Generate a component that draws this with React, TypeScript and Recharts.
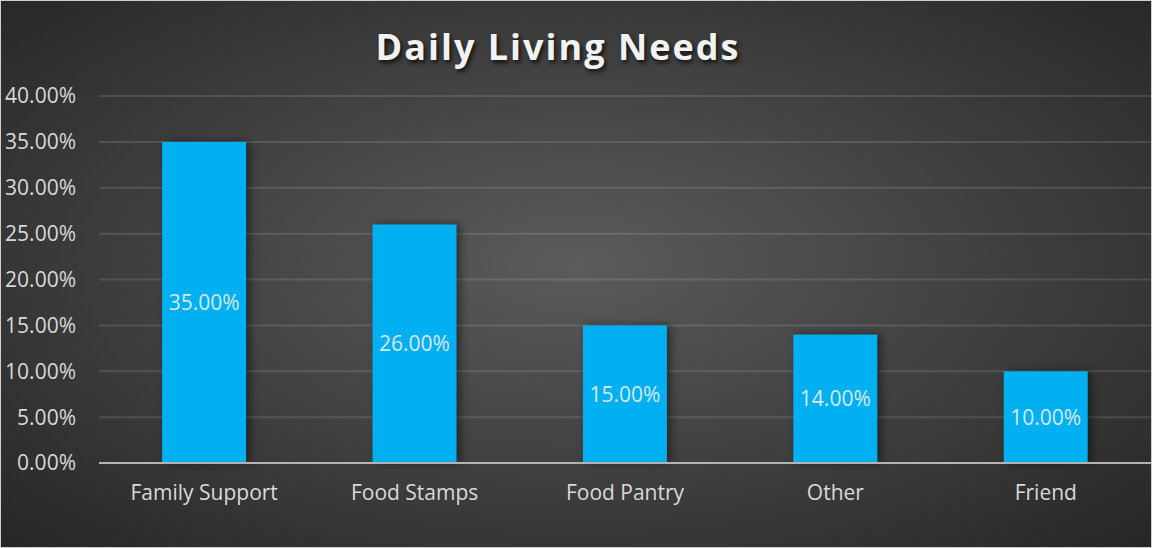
import { BarChart, Bar, XAxis, YAxis, CartesianGrid, LabelList } from "recharts";

const categories = ["Family Support", "Food Stamps", "Food Pantry", "Other", "Friend"];
const shares = [0.35, 0.26, 0.15, 0.14, 0.1];
const yTicks = [0, 0.05, 0.1, 0.15, 0.2, 0.25, 0.3, 0.35, 0.4];

const data = categories.map((name, i) => ({ name, value: shares[i] }));

const pct = (v: number) => `${(v * 100).toFixed(2)}%`;

const font = "'Open Sans', 'Noto Sans', sans-serif";

// bar with a soft shadow to the right, like the original
const ShadowBar = (props: any) => {
  const { x, y, width, height } = props;
  if (!height) return null;
  return (
    <rect
      x={x}
      y={y}
      width={width}
      height={height}
      fill="#00B0F0"
      style={{ filter: "drop-shadow(4px 0px 4px rgba(0,0,0,0.45))" }}
    />
  );
};

export default function App() {
  return (
    <div
      style={{
        position: "absolute",
        left: 0,
        top: 0,
        width: 1152,
        height: 548,
        boxSizing: "border-box",
        border: "1px solid #cfcfcf",
        background: "radial-gradient(ellipse farthest-corner at 50% 48%, #5b5b5b 0%, #262626 100%)",
        fontFamily: font,
        overflow: "hidden",
      }}
    >
      <div
        style={{
          position: "absolute",
          top: 22,
          left: 0,
          width: 1114,
          textAlign: "center",
          color: "#f2f2f2",
          fontSize: 36,
          fontWeight: 700,
          letterSpacing: 2,
          textShadow: "2px 3px 4px rgba(0,0,0,0.7)",
          lineHeight: "48px",
        }}
      >
        Daily Living Needs
      </div>
      <div style={{ position: "absolute", left: -1, top: -1 }}>
        <BarChart
          width={1152}
          height={548}
          data={data}
          margin={{ top: 96, right: 1, bottom: 0, left: 0 }}
          barCategoryGap="30%"
        >
          <CartesianGrid vertical={false} stroke="rgba(255,255,255,0.12)" strokeWidth={2} />
          <XAxis
            dataKey="name"
            height={85}
            tickLine={false}
            tickSize={0}
            tickMargin={22}
            axisLine={{ stroke: "#b4b4b4", strokeWidth: 2 }}
            tick={{ fill: "#d9d9d9", fontSize: 21, fontFamily: font }}
          />
          <YAxis
            width={99}
            domain={[0, 0.4]}
            ticks={yTicks}
            tickFormatter={pct}
            tickLine={false}
            tickSize={0}
            tickMargin={23}
            axisLine={false}
            tick={{ fill: "#d9d9d9", fontSize: 21, fontFamily: font }}
          />
          <Bar dataKey="value" fill="#00B0F0" shape={ShadowBar} isAnimationActive={false}>
            <LabelList
              dataKey="value"
              position="center"
              formatter={(v: any) => pct(Number(v))}
              fill="#d9e7ee"
              fontSize={21}
              fontFamily={font}
            />
          </Bar>
        </BarChart>
      </div>
    </div>
  );
}
